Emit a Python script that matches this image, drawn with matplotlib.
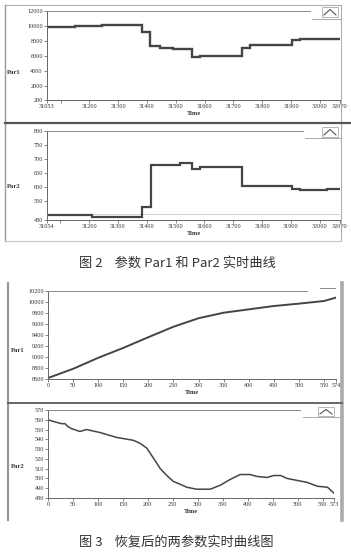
import matplotlib
matplotlib.use("Agg")
import matplotlib.pyplot as plt
from matplotlib.lines import Line2D
from matplotlib.patches import Rectangle

plt.rcParams['font.family'] = ['Noto Sans CJK SC', 'DejaVu Sans']

W, H = 351, 558

# ---------------- data ----------------
# Fig.2 upper: Par1 (step curve)
p1_time = [31053, 31151, 31244, 31382, 31411, 31446, 31492, 31558, 31585, 31729, 31758, 31804, 31903, 31932, 32070]
p1_val = [9900, 10000, 10150, 9250, 7300, 7150, 7000, 5850, 6050, 7150, 7450, 7550, 8200, 8350, 8350]
p1_xticks = [31053, 31200, 31300, 31400, 31500, 31600, 31700, 31800, 31900, 32000, 32070]
p1_yticks = [200, 2000, 4000, 6000, 8000, 10000, 12000]

# Fig.2 lower: Par2 (step curve)
p2_time = [31054, 31210, 31383, 31416, 31516, 31557, 31586, 31730, 31904, 31933, 32025, 32070]
p2_val = [498, 492, 528, 679, 686, 663, 672, 601, 592, 587, 590, 590]
p2_xticks = [31054, 31200, 31300, 31400, 31500, 31600, 31700, 31800, 31900, 32000, 32070]
p2_yticks = [480, 550, 600, 650, 700, 750, 800]

# Fig.3 upper: restored Par1
p3_time = [0, 50, 100, 150, 200, 250, 300, 350, 400, 450, 500, 550, 574]
p3_val = [8618, 8785, 8985, 9165, 9360, 9550, 9705, 9805, 9866, 9927, 9970, 10018, 10080]
p3_xticks = [0, 50, 100, 150, 200, 250, 300, 350, 400, 450, 500, 550, 574]
p3_yticks = [8600, 8800, 9000, 9200, 9400, 9600, 9800, 10000, 10200]

# Fig.3 lower: restored Par2
p4_time = [0, 13, 27, 34, 40, 47, 64, 77, 104, 137, 171, 184, 198, 211, 225, 238, 251, 265,
           278, 298, 325, 345, 365, 385, 405, 419, 439, 452, 466, 479, 499, 519, 540, 560, 573]
p4_val = [560, 558, 556, 556, 553, 551, 548, 550, 547, 542, 539, 536, 531, 521, 510, 503, 497, 494,
          491, 489, 489, 493, 499, 504, 504, 502, 501, 503, 503, 500, 498, 496, 492, 491, 485]
p4_xticks = [0, 50, 100, 150, 200, 250, 300, 350, 400, 450, 500, 550, 573]
p4_yticks = [480, 490, 500, 510, 520, 530, 540, 550, 560, 570]

cap2 = "图 2    参数 Par1 和 Par2 实时曲线"
cap3 = "图 3    恢复后的两参数实时曲线图"

fig = plt.figure(figsize=(W / 100, H / 100), dpi=100)
fig.patch.set_facecolor('white')


def rect(l, t, r, b):
    return [l / W, 1 - b / H, (r - l) / W, (b - t) / H]


def hline(y, x0, x1, color='#888888', lw=1.0):
    fig.add_artist(Line2D([x0 / W, x1 / W], [1 - y / H, 1 - y / H], color=color, lw=lw,
                          transform=fig.transFigure))


def vline(x, y0, y1, color='#888888', lw=1.0):
    fig.add_artist(Line2D([x / W, x / W], [1 - y0 / H, 1 - y1 / H], color=color, lw=lw,
                          transform=fig.transFigure))


def icon(x0, y0, x1, y1):
    cx = (x0 + x1) / 2
    fig.add_artist(Rectangle((x0 / W, 1 - y1 / H), (x1 - x0) / W, (y1 - y0) / H,
                             transform=fig.transFigure, fill=False, ec='#aaaaaa', lw=0.6))
    fig.add_artist(Line2D([(x0 + 2) / W, cx / W, (x1 - 2) / W],
                          [1 - (y1 - 2) / H, 1 - (y0 + 2.5) / H, 1 - (y1 - 2) / H],
                          color='#555555', lw=0.8, transform=fig.transFigure))


tick_font = dict(family='Liberation Serif', size=4.5, color='#333333')


def setup(ax, x, y, xticks, yticks, xlim, ylim, ylabel, step, lw, grid_x, grid_y,
          ylab_x, ylab_y):
    if step:
        ax.plot(x, y, color='#454545', lw=lw, drawstyle='steps-post', solid_joinstyle='miter')
    else:
        ax.plot(x, y, color='#454545', lw=lw)
    ax.set_xlim(*xlim)
    ax.set_ylim(*ylim)
    ax.set_xticks(xticks)
    ax.set_yticks(yticks)
    ax.set_xticklabels([str(v) for v in xticks], fontdict=tick_font)
    ax.set_yticklabels([str(v) for v in yticks], fontdict=tick_font)
    ax.set_xticks(grid_x, minor=True)
    ax.set_yticks(grid_y, minor=True)
    ax.grid(which='minor', color='#cfcfcf', lw=0.7)
    ax.tick_params(which='minor', length=0)
    ax.tick_params(which='major', length=2, width=0.5, color='#555555', pad=1)
    for s in ('top', 'right'):
        ax.spines[s].set_visible(False)
    for s in ('left', 'bottom'):
        ax.spines[s].set_color('#666666')
        ax.spines[s].set_linewidth(0.7)
    ax.set_xlabel('Time', fontdict=dict(family='Liberation Serif', size=4.6, weight='bold',
                                        color='#333333'), labelpad=1.5)
    fig.text(ylab_x / W, 1 - ylab_y / H, ylabel, family='Liberation Serif', size=4.8,
             weight='bold', color='#333333', ha='left', va='center')


# Panel 1
ax1 = fig.add_axes(rect(47, 11, 340, 100))
setup(ax1, p1_time, p1_val, p1_xticks, p1_yticks, (31053, 32070), (200, 12000), 'Par1',
      True, 1.7, list(range(31100, 32100, 100)), [2000, 4000, 6000, 8000, 10000], 7, 72)
ax1.set_xticks(p1_xticks + [31100])
ax1.set_xticklabels([str(v) for v in p1_xticks] + [''], fontdict=tick_font)

# Panel 2
ax2 = fig.add_axes(rect(47, 131, 340, 220))
setup(ax2, p2_time, p2_val, p2_xticks, p2_yticks, (31054, 32070), (480, 800), 'Par2',
      True, 1.6, list(range(31100, 32100, 100)), [500, 550, 600, 650, 700, 750], 7, 187)
ax2.set_xticks(p2_xticks + [31100])
ax2.set_xticklabels([str(v) for v in p2_xticks] + [''], fontdict=tick_font)

# Panel 3
ax3 = fig.add_axes(rect(48, 291, 336, 379))
setup(ax3, p3_time, p3_val, p3_xticks, p3_yticks, (0, 574), (8600, 10200), 'Par1',
      False, 1.4, list(range(50, 600, 50)), list(range(8800, 10200, 200)), 11, 350)

# Panel 4
ax4 = fig.add_axes(rect(48, 410, 334, 498))
setup(ax4, p4_time, p4_val, p4_xticks, p4_yticks, (0, 573), (480, 570), 'Par2',
      False, 1.1, list(range(50, 600, 50)), list(range(490, 570, 10)), 11, 466)

# ---------- frames (Fig.2) ----------
hline(5, 5, 341, '#b0b0b0', 0.8)
vline(5, 5, 241, '#999999', 1.0)
vline(341, 5, 241, '#b0b0b0', 0.8)
hline(241, 5, 341, '#c8c8c8', 0.8)
hline(123, 5, 351, '#555555', 1.6)
# top lines and icons
hline(11, 47, 310, '#888888', 0.7)
hline(19, 312, 341, '#aaaaaa', 0.7)
icon(322, 7, 338, 17)
hline(131, 47, 303, '#888888', 0.7)
hline(138, 305, 341, '#aaaaaa', 0.7)
icon(322, 127, 338, 137)

# ---------- frames (Fig.3) ----------
vline(8, 283, 520, '#999999', 1.6)
vline(342, 283, 520, '#aaaaaa', 2.6)
hline(403, 8, 342, '#666666', 1.4)
hline(291, 48, 307, '#888888', 0.7)
hline(288, 320, 335, '#888888', 0.7)
hline(410, 48, 300, '#888888', 0.7)
hline(417, 303, 341, '#aaaaaa', 0.7)
icon(318, 407, 334, 416)

# ---------- captions ----------
fig.text(177 / W, 1 - 263 / H, cap2, ha='center', va='center', size=9.5, color='#333333')
fig.text(176 / W, 1 - 542 / H, cap3, ha='center', va='center', size=9.5, color='#333333')

fig.savefig('out.png', dpi=100, facecolor='white')
